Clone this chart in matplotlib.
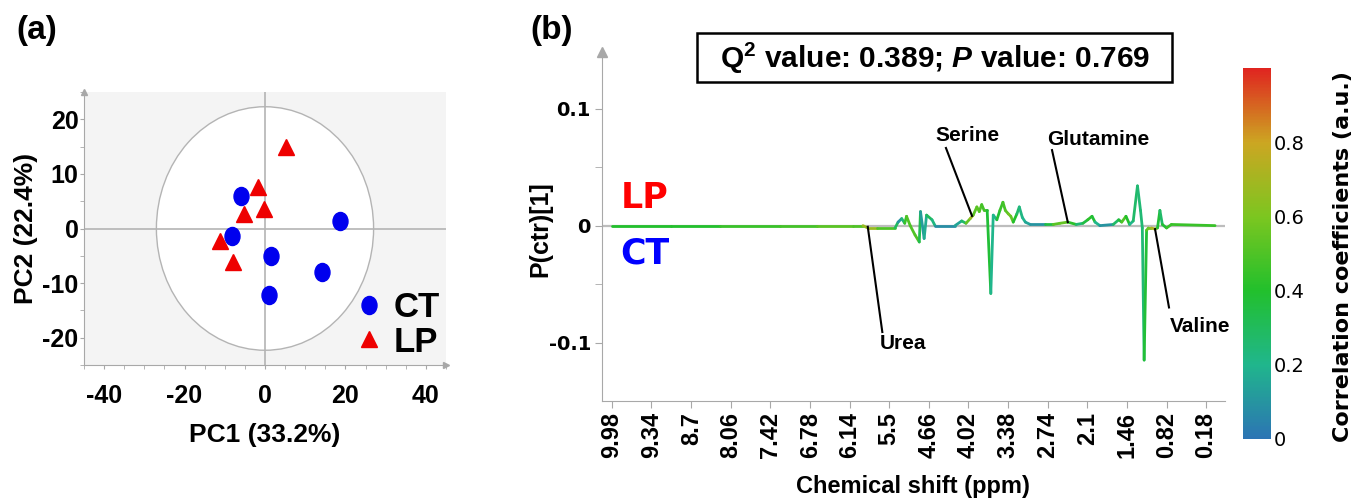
import numpy as np
import matplotlib
matplotlib.use("Agg")
import matplotlib.pyplot as plt
from matplotlib.path import Path
from matplotlib.transforms import Affine2D
from matplotlib.patches import Ellipse, Rectangle
from matplotlib.collections import LineCollection
from matplotlib.colors import LinearSegmentedColormap, Normalize
from matplotlib.cm import ScalarMappable
from matplotlib.ticker import MultipleLocator, FixedLocator

plt.rcParams['axes.unicode_minus'] = False
plt.rcParams['mathtext.fontset'] = 'custom'
plt.rcParams['mathtext.rm'] = 'Liberation Sans:bold'
plt.rcParams['mathtext.it'] = 'Liberation Sans:italic:bold'
plt.rcParams['mathtext.bf'] = 'Liberation Sans:bold'

ARIAL = ['Liberation Sans', 'DejaVu Sans']
WIDE = ['DejaVu Sans']

# PCA scores
ct_pc1 = [-6.0, -8.1, 18.6, 1.4, 14.2, 0.9]
ct_pc2 = [6.0, -1.3, 1.3, -5.1, -7.9, -12.2]
lp_pc1 = [5.1, -1.7, -0.2, -5.1, -11.3, -7.9]
lp_pc2 = [14.9, 7.6, 3.5, 2.7, -2.3, -6.2]

# OPLS-DA loading line: chemical shift, P(ctr)[1], correlation coefficient
ppm = [9.98, 9.0, 8.2, 7.2, 6.6, 6.0, 5.84, 5.76, 5.60, 5.31, 5.26, 5.20, 5.15, 5.12,
       5.06, 4.98, 4.91, 4.89, 4.83, 4.79, 4.70, 4.65, 4.32, 4.21, 4.14, 4.07, 4.02,
       3.96, 3.92, 3.88, 3.84, 3.79, 3.73, 3.69, 3.63, 3.58, 3.53, 3.49, 3.44, 3.40,
       3.36, 3.30, 3.26, 3.21, 3.16, 3.08, 2.83, 2.70, 2.59, 2.46, 2.32, 2.21, 2.13,
       2.06, 2.01, 1.93, 1.71, 1.62, 1.57, 1.50, 1.44, 1.38, 1.31, 1.26, 1.23, 1.20,
       1.16, 1.13, 1.08, 1.02, 0.98, 0.94, 0.90, 0.83, 0.75, 0.03]
p_ctr = [0, 0, 0, 0, 0, 0, 0, -0.002, -0.002, -0.002, 0.003, 0.006, 0.002, 0.008,
         0.0, -0.008, -0.014, 0.012, -0.011, 0.009, 0.005, 0.0, 0.0, 0.004, 0.002, 0.006, 0.009,
         0.016, 0.012, 0.018, 0.013, 0.013, -0.058, 0.009, 0.005, 0.013, 0.020, 0.013, 0.010, 0.008,
         0.003, 0.010, 0.016, 0.007, 0.003, 0.001, 0.001, 0.001, 0.002, 0.003, 0.001, 0.002, 0.005,
         0.008, 0.003, 0.0, 0.001, 0.005, 0.003, 0.008, 0.001, 0.004, 0.034, 0.013, -0.002, -0.115,
         -0.004, -0.002, -0.002, -0.003, -0.002, 0.013, 0.001, -0.002, 0.001, 0.0]
corr = [0.5, 0.3, 0.5, 0.4, 0.55, 0.5, 0.5, 0.85, 0.5, 0.5, 0.1, 0.1, 0.4, 0.5,
        0.5, 0.5, 0.5, 0.15, 0.1, 0.25, 0.35, 0.1, 0.05, 0.25, 0.3, 0.8, 0.55,
        0.5, 0.55, 0.45, 0.5, 0.45, 0.3, 0.1, 0.3, 0.45, 0.45, 0.5, 0.55, 0.6,
        0.5, 0.3, 0.25, 0.2, 0.2, 0.1, 0.1, 0.6, 0.45, 0.65, 0.2, 0.3, 0.4,
        0.45, 0.3, 0.1, 0.1, 0.45, 0.3, 0.7, 0.1, 0.3, 0.25, 0.25, 0.25, 0.25,
        0.5, 0.55, 0.6, 0.85, 0.5, 0.25, 0.3, 0.45, 0.45, 0.45]

# bin positions carrying the shift labels
tick_pos = [9.98, 9.33, 8.67, 8.02, 7.37, 6.71, 6.06, 5.41, 4.75, 4.10, 3.45, 2.79,
            2.14, 1.49, 0.83, 0.18]
tick_labels = ['9.98', '9.34', '8.7', '8.06', '7.42', '6.78', '6.14', '5.5', '4.66',
               '4.02', '3.38', '2.74', '2.1', '1.46', '0.82', '0.18']

# metabolite labels: name, point on line, end of leader, text position
metabolites = [
    ('Urea', (5.76, -0.001), (5.52, -0.091), (5.18, -0.1004)),
    ('Serine', (4.04, 0.0083), (4.47, 0.0664), (4.12, 0.0775)),
    ('Glutamine', (2.46, 0.003), (2.72, 0.0646), (1.96, 0.0735)),
    ('Valine', (1.02, -0.003), (0.79, -0.070), (0.28, -0.0866)),
]

W, H = 1357, 500
def fx(px):
    return px / W
def fy(py):
    return 1 - py / H

GRAY = '#a8a8a8'
fig = plt.figure(figsize=(W / 100, H / 100), dpi=100)

# ---------------- (a) PCA score plot ----------------
axa = fig.add_axes([fx(84), fy(365), 362 / W, 273 / H])
axa.set_facecolor('#f4f4f4')
axa.set_xlim(-45, 45)
axa.set_ylim(-25, 25)
axa.add_patch(Ellipse((0, 0), 54, 44.6, facecolor='white', edgecolor='#b4b4b4', lw=1.0, zorder=1))
axa.axhline(0, color='#b4b4b4', lw=1.2, zorder=2)
axa.axvline(0, color='#b4b4b4', lw=1.2, zorder=2)

oval = Path.unit_circle().transformed(Affine2D().scale(0.83, 1.0))
axa.plot(ct_pc1, ct_pc2, ls='none', marker=oval, ms=13, color='#0000ee', label='CT', zorder=3)
axa.plot(lp_pc1, lp_pc2, ls='none', marker='^', ms=11, color='#ee0000', label='LP', zorder=3)

for s in ['top', 'right']:
    axa.spines[s].set_visible(False)
for s in ['left', 'bottom']:
    axa.spines[s].set_color(GRAY)
axa.plot(0, 1, marker='^', ms=5, color=GRAY, transform=axa.transAxes, clip_on=False)
axa.plot(1, 0, marker='>', ms=5, color=GRAY, transform=axa.transAxes, clip_on=False)

axa.xaxis.set_major_locator(FixedLocator([-40, -20, 0, 20, 40]))
axa.yaxis.set_major_locator(FixedLocator([-20, -10, 0, 10, 20]))
axa.xaxis.set_minor_locator(MultipleLocator(5))
axa.yaxis.set_minor_locator(MultipleLocator(5))
axa.tick_params(which='both', length=3, color=GRAY)
axa.tick_params(axis='x', pad=11)
axa.tick_params(axis='y', pad=1)
for lab in axa.get_xticklabels() + axa.get_yticklabels():
    lab.set_family(ARIAL)
    lab.set_weight('bold')
    lab.set_size(18)

leg = axa.legend(loc='lower right', bbox_to_anchor=(1.04, -0.053), frameon=False,
                 handletextpad=0.2, labelspacing=0.05, borderaxespad=0.2, handlelength=1.0,
                 prop=dict(family=ARIAL, weight='bold', size=25))

fig.text(fx(265), fy(435), 'PC1 (33.2%)', ha='center', va='center',
         family=ARIAL, weight='bold', size=19)
fig.text(fx(26), fy(228), 'PC2 (22.4%)', ha='center', va='center', rotation=90,
         family=ARIAL, weight='bold', size=19)
fig.text(fx(37), fy(31), '(a)', ha='center', va='center', family=ARIAL, weight='bold', size=24)

# ---------------- (b) OPLS-DA loading plot ----------------
cmap = LinearSegmentedColormap.from_list('corr', [
    (0.0, '#2c74b4'), (0.2, '#20b68c'), (0.4, '#22c02c'),
    (0.6, '#7cc620'), (0.8, '#cca622'), (1.0, '#e02420')])
norm = Normalize(0, 1)

axb = fig.add_axes([fx(602), fy(401), 623 / W, 349 / H])
axb.set_xlim(10.145, -0.134)
axb.set_ylim(-0.15, 0.1485)
axb.axhline(0, color='#bdbdbd', lw=1.6, zorder=1)

pts = np.column_stack([ppm, p_ctr])
segs = np.stack([pts[:-1], pts[1:]], axis=1)
seg_c = (np.array(corr[:-1]) + np.array(corr[1:])) / 2
lc = LineCollection(segs, cmap=cmap, norm=norm, linewidths=2.0, zorder=2,
                    capstyle='round', joinstyle='round')
lc.set_array(seg_c)
axb.add_collection(lc)

for name, pt, end, txt in metabolites:
    axb.plot([pt[0], end[0]], [pt[1], end[1]], color='black', lw=1.5, zorder=3)
    axb.text(txt[0], txt[1], name, ha='center', va='center',
             family=ARIAL, weight='bold', size=15, zorder=4)

for s in ['top', 'right']:
    axb.spines[s].set_visible(False)
for s in ['left', 'bottom']:
    axb.spines[s].set_color(GRAY)
axb.plot(0, 1, marker='^', ms=7, color=GRAY, transform=axb.transAxes, clip_on=False)

axb.yaxis.set_major_locator(FixedLocator([-0.1, 0, 0.1]))
axb.yaxis.set_minor_locator(FixedLocator([-0.05, 0.05]))
axb.set_yticklabels(['-0.1', '0', '0.1'])
axb.set_xticks(tick_pos)
axb.set_xticklabels(tick_labels, rotation=90)
axb.tick_params(which='both', length=5, color=GRAY)
axb.tick_params(axis='y', pad=3)
axb.tick_params(axis='x', pad=3)
for lab in axb.get_yticklabels():
    lab.set_family(WIDE)
    lab.set_weight('bold')
    lab.set_size(14)
for lab in axb.get_xticklabels():
    lab.set_family(ARIAL)
    lab.set_weight('bold')
    lab.set_size(17)

axb.text(9.44, 0.024, 'LP', color='#ff0000', ha='center', va='center',
         family=WIDE, weight='bold', size=25)
axb.text(9.44, -0.024, 'CT', color='#0000ff', ha='center', va='center',
         family=WIDE, weight='bold', size=25)

fig.text(fx(913), fy(486), 'Chemical shift (ppm)', ha='center', va='center',
         family=ARIAL, weight='bold', size=17)
fig.text(fx(540), fy(229), 'P(ctr)[1]', ha='center', va='center', rotation=90,
         family=ARIAL, weight='bold', size=18)
fig.text(fx(552), fy(31), '(b)', ha='center', va='center', family=ARIAL, weight='bold', size=24)

# Q2 / P box
fig.add_artist(Rectangle((fx(697), fy(82)), 475 / W, 49 / H, transform=fig.transFigure,
                         fill=False, edgecolor='black', lw=1.8))
fig.text(fx(935), fy(58), r'Q$^{2}$ value: 0.389; $P$ value: 0.769', ha='center', va='center',
         family=ARIAL, weight='bold', size=21.5)

# colour bar
cax = fig.add_axes([fx(1243), fy(439), 28 / W, 371 / H])
cb = fig.colorbar(ScalarMappable(norm=norm, cmap=cmap), cax=cax)
cb.outline.set_visible(False)
cb.set_ticks([0, 0.2, 0.4, 0.6, 0.8])
cb.set_ticklabels(['0', '0.2', '0.4', '0.6', '0.8'])
cax.tick_params(length=0, pad=2)
for lab in cax.get_yticklabels():
    lab.set_family(WIDE)
    lab.set_size(14)
fig.text(fx(1343), fy(257), 'Correlation coefficients (a.u.)', ha='center', va='center',
         rotation=90, family=WIDE, weight='bold', size=16)

fig.savefig('out.png', dpi=100)
